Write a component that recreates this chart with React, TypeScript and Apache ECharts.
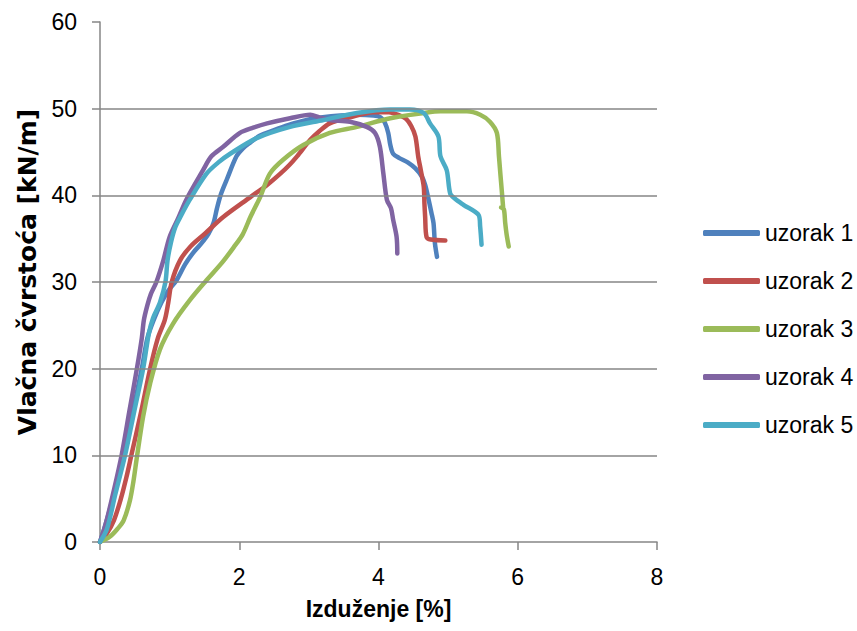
import React, { useEffect, useRef } from "react";
import * as echarts from "echarts";

const seriesNames = ["uzorak 1", "uzorak 2", "uzorak 3", "uzorak 4", "uzorak 5"];
const seriesColors = ["#4F81BD", "#C0504D", "#9BBB59", "#8064A2", "#4BACC6"];

const xTicks = [0, 2, 4, 6, 8];
const yTicks = [0, 10, 20, 30, 40, 50, 60];
const yGridValues = [10, 20, 30, 40, 50];

const uzorak1 = [
  [0, 0], [0.06, 1.5], [0.15, 4], [0.25, 7], [0.34, 10], [0.47, 15], [0.6, 20], [0.68, 23.5],
  [0.77, 25.6], [0.88, 27.6], [0.98, 29.0], [1.1, 30.2], [1.22, 32.0], [1.34, 33.4], [1.45, 34.4],
  [1.56, 35.6], [1.63, 36.8], [1.68, 38.5], [1.74, 40.2], [1.82, 41.8], [1.96, 44.5], [2.05, 45.4],
  [2.16, 46.1], [2.3, 46.9], [2.49, 47.5], [2.7, 48.1], [2.97, 48.7], [3.2, 49.0], [3.45, 49.2],
  [3.7, 49.3], [3.93, 49.2], [4.03, 49.0], [4.09, 48.4], [4.14, 47.2], [4.17, 45.8], [4.21, 44.8],
  [4.3, 44.3], [4.42, 43.8], [4.53, 43.1], [4.62, 42.2], [4.67, 41.2], [4.72, 39.5], [4.76, 38.0],
  [4.79, 36.8], [4.81, 34.5], [4.84, 32.9],
];

const uzorak2 = [
  [0, 0], [0.1, 1], [0.2, 2.5], [0.3, 5], [0.38, 7.5], [0.45, 10], [0.59, 15], [0.72, 20],
  [0.83, 23.5], [0.93, 25.6], [0.98, 27.6], [1.03, 30], [1.15, 32.5], [1.3, 34.1], [1.51, 35.6],
  [1.77, 37.5], [2.16, 39.8],
  [2.4, 41.2], [2.59, 42.5], [2.72, 43.5], [2.83, 44.5], [3.02, 46.4], [3.15, 47.4], [3.3, 48.3],
  [3.59, 49.0], [3.93, 49.6], [4.15, 49.6], [4.31, 49.2], [4.4, 48.8], [4.47, 48.0], [4.53, 46.8],
  [4.57, 44.5], [4.61, 42.8], [4.65, 41.0], [4.66, 39.0], [4.67, 37.5], [4.69, 35.2], [4.75, 34.9],
  [4.96, 34.8],
];

const uzorak3 = [
  [0, 0], [0.14, 0.6], [0.25, 1.5], [0.34, 2.5], [0.43, 4.8], [0.48, 7], [0.53, 9.8], [0.62, 14.5],
  [0.72, 18.3], [0.86, 22.2], [1.05, 25.2], [1.29, 27.9], [1.53, 30.2], [1.75, 32.2], [1.92, 34.0],
  [2.05, 35.5], [2.16, 37.5], [2.3, 39.8], [2.44, 42.5], [2.63, 44.1], [2.92, 45.8], [3.3, 47.2],
  [3.69, 47.9], [4.17, 48.9], [4.65, 49.5], [4.89, 49.7], [5.12, 49.7], [5.27, 49.7], [5.46, 49.3],
  [5.6, 48.5], [5.7, 47.2], [5.73, 44.5], [5.75, 42.5], [5.77, 40.6], [5.79, 38.6], [5.76, 38.6],
  [5.8, 38.4], [5.82, 36.8], [5.84, 35.5], [5.87, 34.1],
];

const uzorak4 = [
  [0, 0], [0.08, 2], [0.2, 6], [0.31, 10], [0.42, 15], [0.53, 20], [0.6, 23.5], [0.63, 25.6],
  [0.68, 27.3], [0.73, 28.6], [0.81, 30], [0.91, 32.5], [1.0, 35.2], [1.12, 37.3], [1.24, 39.5],
  [1.48, 42.9], [1.6, 44.5], [1.77, 45.6], [2.01, 47.2], [2.2, 47.8], [2.4, 48.3], [2.73, 48.9],
  [3.02, 49.3], [3.15, 49.0], [3.3, 48.7], [3.59, 48.5], [3.83, 47.9], [3.95, 47.2], [4.02, 45.6],
  [4.07, 42.5], [4.12, 39.5], [4.18, 38.5], [4.21, 37.2], [4.26, 35.2], [4.27, 33.3],
];

const uzorak5 = [
  [0, 0], [0.1, 1.5], [0.22, 5.5], [0.36, 10], [0.49, 15], [0.62, 20], [0.7, 24], [0.76, 25.8],
  [0.86, 27.6], [0.94, 30], [0.97, 32.5], [1.02, 34.6], [1.08, 36.3], [1.16, 37.6], [1.29, 39.5],
  [1.53, 42.5],
  [1.7, 43.8], [1.87, 44.8], [2.25, 46.6], [2.73, 47.9], [3.21, 48.7], [3.69, 49.5], [4.17, 49.9],
  [4.45, 49.9], [4.65, 49.5], [4.74, 48.3], [4.86, 46.8], [4.89, 44.5], [4.98, 42.9], [5.03, 40.2],
  [5.1, 39.6], [5.22, 38.9], [5.44, 37.7], [5.46, 36.4], [5.48, 34.3],
];

const allData = [uzorak1, uzorak2, uzorak3, uzorak4, uzorak5];

const xTitle = "Izduženje [%]";
const yTitle = "Vlačna čvrstoća [kN/m]";

const FONT = "'Liberation Sans', Arial, sans-serif";

export default function App() {
  const ref = useRef<HTMLDivElement>(null);

  useEffect(() => {
    if (!ref.current) return;
    const chart = echarts.init(ref.current, undefined, { renderer: "svg" });
    const axisGray = "#868686";

    const lineSeries = allData.map((d, i) => ({
      name: seriesNames[i],
      type: "line",
      data: d,
      showSymbol: false,
      symbol: "none",
      smooth: 0.3,
      z: 3,
      lineStyle: { color: seriesColors[i], width: 4.5, cap: "round", join: "round" },
      itemStyle: { color: seriesColors[i] },
    }));

    const gridSeries = {
      name: "grid",
      type: "line",
      data: [],
      silent: true,
      z: 1,
      markLine: {
        silent: true,
        symbol: ["none", "none"],
        label: { show: false },
        lineStyle: { color: axisGray, width: 1.5, type: "solid" },
        data: yGridValues.map((v) => ({ yAxis: v })),
      },
    };

    chart.setOption({
      animation: false,
      backgroundColor: "#ffffff",
      textStyle: { fontFamily: FONT },
      grid: { left: 100, right: 200, top: 22, bottom: 89, containLabel: false },
      xAxis: {
        type: "value",
        min: xTicks[0],
        max: xTicks[xTicks.length - 1],
        interval: 2,
        name: xTitle,
        nameLocation: "middle",
        nameGap: 55,
        nameTextStyle: { fontSize: 23, fontWeight: "bold", color: "#000", fontFamily: FONT },
        axisLine: { show: true, onZero: false, lineStyle: { color: axisGray, width: 1.5 } },
        axisTick: { show: true, length: 8, lineStyle: { color: axisGray, width: 1.5 } },
        axisLabel: { fontSize: 23, color: "#000", margin: 23, fontFamily: FONT },
        splitLine: { show: false },
      },
      yAxis: {
        type: "value",
        min: yTicks[0],
        max: yTicks[yTicks.length - 1],
        interval: 10,
        axisLine: { show: true, onZero: false, lineStyle: { color: axisGray, width: 1.5 } },
        axisTick: { show: true, length: 8, lineStyle: { color: axisGray, width: 1.5 } },
        axisLabel: { fontSize: 23, color: "#000", margin: 23, fontFamily: FONT },
        splitLine: { show: false },
      },
      legend: {
        data: seriesNames,
        orient: "vertical",
        left: 703,
        top: 221,
        width: 154,
        padding: 0,
        itemWidth: 57,
        itemHeight: 6,
        itemGap: 24,
        icon: "roundRect",
        textStyle: { fontSize: 23, color: "#000", lineHeight: 24, fontFamily: FONT },
        selectedMode: false,
      },
      graphic: [
        {
          type: "text",
          x: 27,
          y: 272,
          rotation: Math.PI / 2,
          style: {
            text: yTitle,
            fontSize: 25,
            fontWeight: "bold",
            fontFamily: "'DejaVu Sans', sans-serif",
            fill: "#000",
            align: "center",
            verticalAlign: "middle",
          },
        },
      ],
      series: [gridSeries, ...lineSeries],
    });

    return () => chart.dispose();
  }, []);

  return (
    <div
      ref={ref}
      style={{ position: "absolute", left: 0, top: 0, width: 857, height: 631 }}
    />
  );
}
